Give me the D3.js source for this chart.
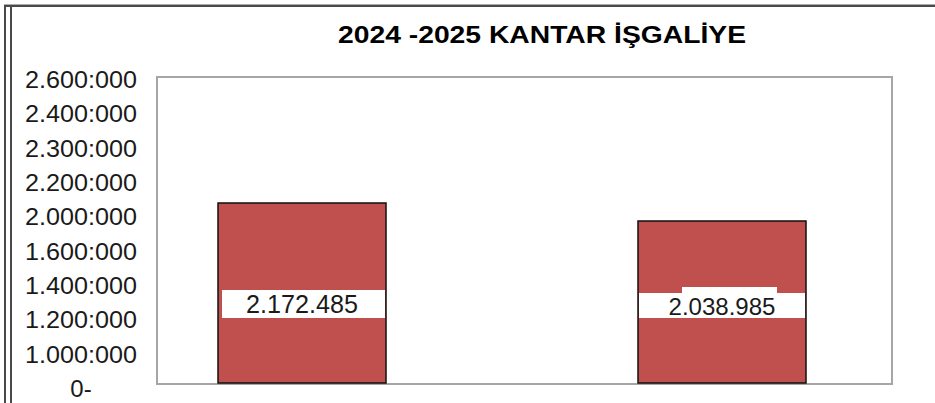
<!DOCTYPE html>
<html>
<head>
<meta charset="utf-8">
<script src="https://cdn.jsdelivr.net/npm/d3@7"></script>
<style>
  html, body { margin: 0; padding: 0; background: #fff; }
  svg { display: block; font-family: "Liberation Sans", Arial, sans-serif; }
</style>
</head>
<body>
<div class="chart"></div>
<script>
const title = '2024 -2025 KANTAR İŞGALİYE'
const categories = ['2024', '2025']
const values = [2172485, 2038985]
const valueLabels = ['2.172.485', '2.038.985']
const yTickLabels = ['2.600:000', '2.400:000', '2.300:000', '2.200:000', '2.000:000',
    '1.600:000', '1.400:000', '1.200:000', '1.000:000', '0-']

const width = 935, height = 403
const plot = { left: 157, top: 77, right: 892, bottom: 384 }

const svg = d3.select('.chart')
    .append('svg')
        .attr('width', width)
        .attr('height', height)

// outer frame (double line on the left, single on top)
svg.append('line')
    .attr('x1', 4).attr('x2', width).attr('y1', 6).attr('y2', 6)
    .style('stroke', '#4a4a4a').style('stroke-width', 2)
svg.append('line')
    .attr('x1', 4).attr('x2', width).attr('y1', 4.5).attr('y2', 4.5)
    .style('stroke', '#aaa').style('stroke-width', 1)
;[5, 11].forEach(x => svg.append('line')
    .attr('x1', x).attr('x2', x).attr('y1', 5).attr('y2', height)
    .style('stroke', '#4a4a4a').style('stroke-width', 2))

// title
svg.append('text')
    .attr('x', 542)
    .attr('y', 43)
    .attr('text-anchor', 'middle')
    .attr('textLength', 408)
    .attr('lengthAdjust', 'spacingAndGlyphs')
    .style('font-size', '23px')
    .style('font-weight', 'bold')
    .style('fill', '#000')
    .text(title)

// scales
const x = d3.scaleBand()
    .domain(categories)
    .range([plot.left, plot.right])
    .paddingInner(0.6)
    .paddingOuter(0.175)
    .align(0.415)

const y = d3.scaleLinear()
    .domain([830000, 3107000])
    .range([plot.bottom, plot.top])

// y labels are evenly spaced text, not tied to the value scale
const yLabelPos = d3.scalePoint()
    .domain(yTickLabels)
    .range([88, 397])

svg.append('g')
        .attr('id', 'y-labels')
    .selectAll('text')
    .data(yTickLabels)
    .enter()
    .append('text')
        .attr('x', 81)
        .attr('y', d => yLabelPos(d))
        .attr('text-anchor', 'middle')
        .style('font-size', '24px')
        .style('fill', '#1a1a1a')
        .each(function (d) {
            if (d.length > 2) {
                d3.select(this)
                    .attr('textLength', 112)
                    .attr('lengthAdjust', 'spacingAndGlyphs')
            }
        })
        .text(d => d)

// plot frame
svg.append('rect')
    .attr('x', plot.left)
    .attr('y', plot.top)
    .attr('width', plot.right - plot.left)
    .attr('height', plot.bottom - plot.top)
    .style('fill', 'none')
    .style('stroke', '#a6a6a6')
    .style('stroke-width', 2)

// bars
const bars = svg.append('g').attr('id', 'bars')
bars.selectAll('rect')
    .data(values)
    .enter()
    .append('rect')
        .attr('x', (d, i) => x(categories[i]))
        .attr('y', d => y(d))
        .attr('width', x.bandwidth())
        .attr('height', d => plot.bottom - 1 - y(d))
        .style('fill', '#C0504D')
        .style('stroke', '#111')
        .style('stroke-width', 1.5)

// value labels on white bands
const labels = svg.append('g').attr('id', 'labels')
labels.selectAll('rect.band')
    .data(values)
    .enter()
    .append('rect')
        .classed('band', true)
        .attr('x', (d, i) => x(categories[i]) + (i === 0 ? 4 : 1))
        .attr('y', (d, i) => i === 0 ? 290 : 293)
        .attr('width', (d, i) => x.bandwidth() - (i === 0 ? 5 : 2))
        .attr('height', (d, i) => i === 0 ? 28 : 25)
        .style('fill', '#fff')

// small tab above the second label
labels.append('rect')
    .attr('x', x(categories[1]) + 44)
    .attr('y', 287)
    .attr('width', 95)
    .attr('height', 7)
    .style('fill', '#fff')

labels.selectAll('text')
    .data(valueLabels)
    .enter()
    .append('text')
        .attr('x', (d, i) => x(categories[i]) + x.bandwidth() / 2)
        .attr('y', (d, i) => i === 0 ? 313 : 315)
        .attr('text-anchor', 'middle')
        .attr('textLength', (d, i) => i === 0 ? 112 : 107)
        .attr('lengthAdjust', 'spacingAndGlyphs')
        .style('font-size', (d, i) => i === 0 ? '25px' : '24px')
        .style('fill', '#1a1a1a')
        .text(d => d)
</script>
</body>
</html>
